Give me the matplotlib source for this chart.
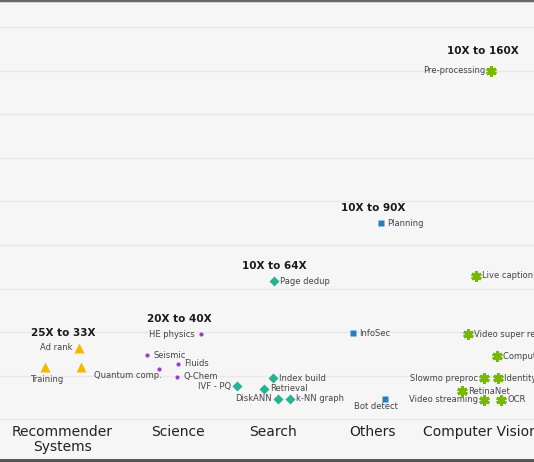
import matplotlib
matplotlib.use("Agg")
import matplotlib.pyplot as plt

# categories along the x axis
categories = ["Recommender\nSystems", "Science", "Search", "Others", "Computer Vision"]
range_labels = ["25X to 33X", "20X to 40X", "10X to 64X", "10X to 90X", "10X to 160X"]

# workloads: name, category index, jitter inside the column, speedup (X), label side
names = ["Ad rank", "Training", "",
         "HE physics", "Seismic", "Fluids", "Quantum comp.", "Q-Chem",
         "Page dedup", "Index build", "Retrieval", "IVF - PQ", "DiskANN", "k-NN graph",
         "Planning", "InfoSec", "Bot detect",
         "Pre-processing", "Live caption", "Video super resolution", "Computational photography",
         "Slowmo preproc", "Identity verification", "RetinaNet", "Video streaming", "OCR"]
cat_idx = [0, 0, 0,
           1, 1, 1, 1, 1,
           2, 2, 2, 2, 2, 2,
           3, 3, 3,
           4, 4, 4, 4, 4, 4, 4, 4, 4]
jitter = [17, -17, 19,
          23, -31, 0, -19, -1,
          1, 0, -9, -36, 5, 17,
          9, -19, 13,
          11, -4, -12, 17, 4, 18, -18, 4, 21]
speedup = [33, 24, 24,
           39, 29.5, 25.5, 23, 19.5,
           63.5, 19, 14, 15.3, 9.4, 9.4,
           90, 39.5, 9.4,
           160, 66, 39.2, 29, 19, 19, 13, 9, 9]
side = ["l", "b", "",
        "l", "r", "r", "bl", "r",
        "r", "r", "r", "l", "l", "r",
        "r", "r", "b",
        "l", "r", "r", "r", "l", "r", "r", "l", "r"]

col_center = [62, 178, 273, 372, 480]
markers = ["^", "o", "D", "s", (6, 2, 0)]
msizes = [6.5, 3, 5.5, 4.3, 7.5]
colors = ["#f5b800", "#9440c8", "#25b394", "#2380c0", "#76b900"]

fig = plt.figure(figsize=(5.34, 4.62), dpi=100)
fig.patch.set_facecolor("#f6f6f6")
ax = fig.add_axes([0, 0, 1, 1])
ax.set_facecolor("#f6f6f6")
ax.set_xlim(0, 534)
ax.set_ylim(-19.5, 192.4)
for s in ax.spines.values():
    s.set_visible(False)
ax.set_xticks([])
ax.set_yticks([])

for g in range(0, 181, 20):
    ax.axhline(g, color="#e8e8e8", lw=1, zorder=0)

# frame bits at top and bottom
ax.axhline(192.4, color="#6a6a6a", lw=2.5, zorder=5)
ax.axhline(-19.5, color="#555555", lw=5, zorder=5)

for i in range(len(names)):
    c = cat_idx[i]
    x = col_center[c] + jitter[i]
    y = speedup[i]
    mk = markers[c]
    if c == 4:
        ax.plot(x, y, marker=mk, ms=msizes[c], mec=colors[c], mew=2.2, ls="none", zorder=3)
    else:
        ax.plot(x, y, marker=mk, ms=msizes[c], color=colors[c], mec="none", ls="none", zorder=3)
    if not names[i]:
        continue
    if side[i] == "r":
        off, ha, va = (6, 0), "left", "center"
    elif side[i] == "l":
        off, ha, va = (-6, 0), "right", "center"
    elif side[i] == "bl":
        off, ha, va = (3, -6), "right", "center"
    else:
        off, ha, va = (2, -12), "center", "center"
    if names[i] == "Bot detect":
        off = (-9, -8)
    ax.annotate(names[i], (x, y), xytext=off, textcoords="offset pixels",
                ha=ha, va=va, fontsize=6, color="#444444", annotation_clip=False,
                clip_on=True)

# range headers over each column
for c in range(len(categories)):
    top = max(speedup[i] for i in range(len(names)) if cat_idx[i] == c)
    ax.annotate(range_labels[c], (col_center[c], top), xytext=(3 if c == 4 else 1, 20 if c == 4 else 15),
                textcoords="offset pixels", ha="center", va="center",
                fontsize=7.5, fontweight="bold", color="#1a1a1a")

# column names below the chart
for c in range(len(categories)):
    ax.text(col_center[c], -2.6, categories[c], ha="center", va="top",
            fontsize=10, color="#222222", linespacing=1.05, clip_on=True)

fig.savefig("out.png", dpi=100, facecolor=fig.get_facecolor())
